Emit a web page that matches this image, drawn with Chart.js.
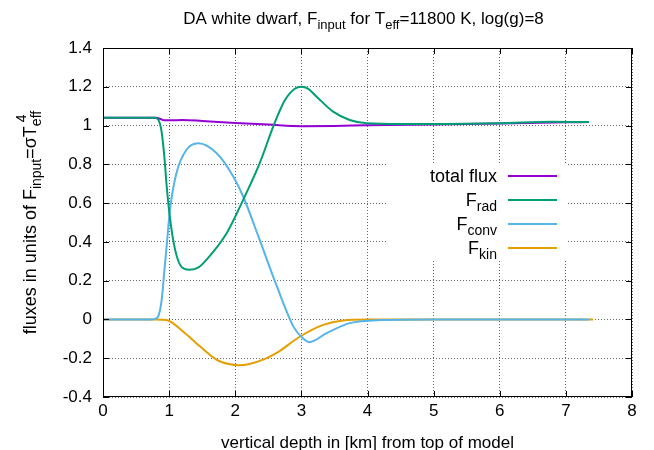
<!DOCTYPE html>
<html><head><meta charset="utf-8">
<script src="https://cdn.jsdelivr.net/npm/chart.js@4"></script>
<style>html,body{margin:0;padding:0;background:#fff}canvas{display:block}</style>
</head><body>
<canvas id="c" width="654" height="450"></canvas>
<script>
// ---- data ----
const totalX = [0, 0.8, 0.86, 0.92, 1.0, 1.2, 1.5, 2.0, 2.5, 3.0, 3.5, 4.0, 5.0, 6.0, 7.0, 7.35];
const totalY = [1.04, 1.04, 1.035, 1.027, 1.027, 1.029, 1.024, 1.013, 1.005, 0.997, 0.998, 1.002, 1.006, 1.011, 1.017, 1.018];

const radX = [0, 0.78, 0.85, 0.89, 0.93, 0.96, 1.01, 1.09, 1.19, 1.31, 1.45, 1.57, 1.87, 2.12, 2.37, 2.58, 2.75, 2.9, 3.0, 3.1, 3.23, 3.48, 3.73, 3.99, 4.5, 5.0, 6.0, 6.8, 7.35];
const radY = [1.04, 1.04, 1.02, 0.96, 0.83, 0.70, 0.53, 0.36, 0.27, 0.256, 0.27, 0.31, 0.445, 0.617, 0.806, 1.0, 1.13, 1.19, 1.2, 1.19, 1.149, 1.072, 1.029, 1.012, 1.008, 1.008, 1.012, 1.02, 1.018];

const convX = [0, 0.74, 0.8, 0.84, 0.887, 0.92, 0.963, 1.013, 1.11, 1.26, 1.44, 1.72, 1.97, 2.12, 2.37, 2.63, 2.88, 3.0, 3.12, 3.38, 3.73, 4.2, 5.0, 6.0, 7.35];
const convY = [0, 0, 0.005, 0.02, 0.1, 0.22, 0.38, 0.565, 0.754, 0.874, 0.909, 0.857, 0.737, 0.634, 0.41, 0.17, -0.037, -0.09, -0.117, -0.071, -0.019, -0.003, 0, 0, 0];

const kinX = [0, 0.8, 0.96, 1.21, 1.47, 1.72, 1.9, 2.05, 2.2, 2.45, 2.62, 2.98, 3.33, 3.63, 4.0, 5.0, 6.0, 7.41];
const kinY = [0, 0, -0.003, -0.062, -0.14, -0.208, -0.23, -0.236, -0.231, -0.203, -0.174, -0.088, -0.028, -0.005, 0, 0, 0, 0];

const xTicks = [0, 1, 2, 3, 4, 5, 6, 7, 8];
const yTicks = [-0.4, -0.2, 0, 0.2, 0.4, 0.6, 0.8, 1, 1.2, 1.4];

const seriesNames = ['total flux', 'F_rad', 'F_conv', 'F_kin'];
const colors = ['#9400d3', '#009e73', '#56b4e9', '#e69f00'];

function pts(xs, ys) { return xs.map((x, i) => ({x: x, y: ys[i]})); }

const FONT = '"Liberation Sans", Arial, Helvetica, sans-serif';

function richWidth(ctx, segs, size) {
  let w = 0, lastSubW = 0;
  for (const s of segs) {
    const sz = s.k === 'n' ? size : Math.round(size * 0.75);
    ctx.font = sz + 'px ' + FONT;
    const mw = ctx.measureText(s.t).width;
    if (s.k === 'supStack') { w += Math.max(0, mw - lastSubW); }
    else { w += mw; }
    lastSubW = s.k === 'sub' ? mw : 0;
  }
  return w;
}
function drawRich(ctx, segs, x, y, size, align) {
  const total = richWidth(ctx, segs, size);
  let cx = align === 'right' ? x - total : (align === 'center' ? x - total / 2 : x);
  let lastSubStart = 0, lastSubW = 0;
  const dsub = Math.round(size * 0.27), dsup = Math.round(size * 0.5);
  ctx.textAlign = 'left';
  ctx.textBaseline = 'alphabetic';
  for (const s of segs) {
    const sz = s.k === 'n' ? size : Math.round(size * 0.75);
    ctx.font = sz + 'px ' + FONT;
    const mw = ctx.measureText(s.t).width;
    if (s.k === 'n') { ctx.fillText(s.t, cx, y); cx += mw; }
    else if (s.k === 'sub') { ctx.fillText(s.t, cx, y + dsub); lastSubStart = cx; lastSubW = mw; cx += mw; }
    else if (s.k === 'sup') { ctx.fillText(s.t, cx, y - dsup); cx += mw; }
    else if (s.k === 'supStack') {
      const sx = lastSubStart + (lastSubW - mw) / 2;
      ctx.fillText(s.t, sx, y - dsup - 1);
      cx = Math.max(cx, sx + mw);
    }
  }
}

const legendSegs = [
  [{t: 'total flux', k: 'n'}],
  [{t: 'F', k: 'n'}, {t: 'rad', k: 'sub'}],
  [{t: 'F', k: 'n'}, {t: 'conv', k: 'sub'}],
  [{t: 'F', k: 'n'}, {t: 'kin', k: 'sub'}]
];

const deco = {
  id: 'deco',
  beforeDatasetsDraw(chart) {
    const ctx = chart.ctx;
    ctx.save();
    ctx.fillStyle = '#fff';
    ctx.fillRect(387, 163, 180, 98);
    ctx.restore();
  },
  afterDraw(chart) {
    const ctx = chart.ctx;
    const a = chart.chartArea;
    const xs = chart.scales.x, ys = chart.scales.y;
    ctx.save();
    ctx.strokeStyle = '#000';
    ctx.lineWidth = 1;
    ctx.strokeRect(Math.round(a.left) + 0.5, Math.round(a.top) + 0.5, Math.round(a.right - a.left) - 1, Math.round(a.bottom - a.top) - 1);
    ctx.beginPath();
    for (const v of xTicks) {
      const px = Math.round(xs.getPixelForValue(v)) + 0.5;
      ctx.moveTo(px, a.bottom); ctx.lineTo(px, a.bottom - 6);
      ctx.moveTo(px, a.top); ctx.lineTo(px, a.top + 6);
    }
    for (const v of yTicks) {
      const py = Math.round(ys.getPixelForValue(v)) + 0.5;
      ctx.moveTo(a.left, py); ctx.lineTo(a.left + 6, py);
      ctx.moveTo(a.right, py); ctx.lineTo(a.right - 6, py);
    }
    ctx.stroke();
    ctx.fillStyle = '#000';
    drawRich(ctx, [{t: 'DA white dwarf, F', k: 'n'}, {t: 'input', k: 'sub'}, {t: ' for T', k: 'n'}, {t: 'eff', k: 'sub'}, {t: '=11800 K, log(g)=8', k: 'n'}], (a.left + a.right) / 2 - 4, 24, 17, 'center');
    ctx.font = '17px ' + FONT;
    ctx.textAlign = 'center';
    ctx.fillText('vertical depth in [km] from top of model', (a.left + a.right) / 2, 448);
    ctx.save();
    ctx.translate(36, (a.top + a.bottom) / 2);
    ctx.rotate(-Math.PI / 2);
    drawRich(ctx, [{t: 'fluxes in units of F', k: 'n'}, {t: 'input', k: 'sub'}, {t: '=\u03c3T', k: 'n'}, {t: 'eff', k: 'sub'}, {t: '4', k: 'supStack'}], 0, 0, 18, 'center');
    ctx.restore();
    const rows = [176, 200, 224, 248];
    for (let i = 0; i < 4; i++) {
      drawRich(ctx, legendSegs[i], 497, rows[i] + 6, 18, 'right');
      ctx.strokeStyle = colors[i];
      ctx.lineWidth = 2;
      ctx.beginPath();
      ctx.moveTo(508, rows[i]); ctx.lineTo(557, rows[i]);
      ctx.stroke();
    }
    ctx.restore();
  }
};

const ds = [pts(totalX, totalY), pts(radX, radY), pts(convX, convY), pts(kinX, kinY)];
new Chart(document.getElementById('c'), {
  type: 'line',
  data: {
    datasets: ds.map((d, i) => ({
      label: seriesNames[i],
      data: d,
      borderColor: colors[i],
      backgroundColor: colors[i],
      borderWidth: 2,
      pointRadius: 0,
      fill: false,
      cubicInterpolationMode: 'monotone',
      order: i === 0 ? 3 : (i === 1 ? 0 : i)
    }))
  },
  options: {
    responsive: false,
    animation: false,
    devicePixelRatio: 1,
    layout: {padding: {top: 48, right: 22, left: 0, bottom: 0}},
    plugins: {legend: {display: false}, title: {display: false}, tooltip: {enabled: false}},
    scales: {
      x: {
        type: 'linear', min: 0, max: 8,
        afterFit(s) { s.height = 53; },
        afterBuildTicks(s) { s.ticks = xTicks.map(v => ({value: v})); },
        ticks: {color: '#000', font: {size: 17, family: FONT}, padding: 4, maxRotation: 0, callback: v => String(v)},
        grid: {color: '#666', drawTicks: false, lineWidth: 1},
        border: {display: false, dash: [1, 2]}
      },
      y: {
        type: 'linear', min: -0.4, max: 1.4,
        afterFit(s) { s.width = 103; },
        afterBuildTicks(s) { s.ticks = yTicks.map(v => ({value: v})); },
        ticks: {color: '#000', font: {size: 17, family: FONT}, padding: 11, callback: v => String(parseFloat(Number(v).toFixed(1)))},
        grid: {color: '#666', drawTicks: false, lineWidth: 1},
        border: {display: false, dash: [1, 2]}
      }
    }
  },
  plugins: [deco]
});
</script>
</body></html>
